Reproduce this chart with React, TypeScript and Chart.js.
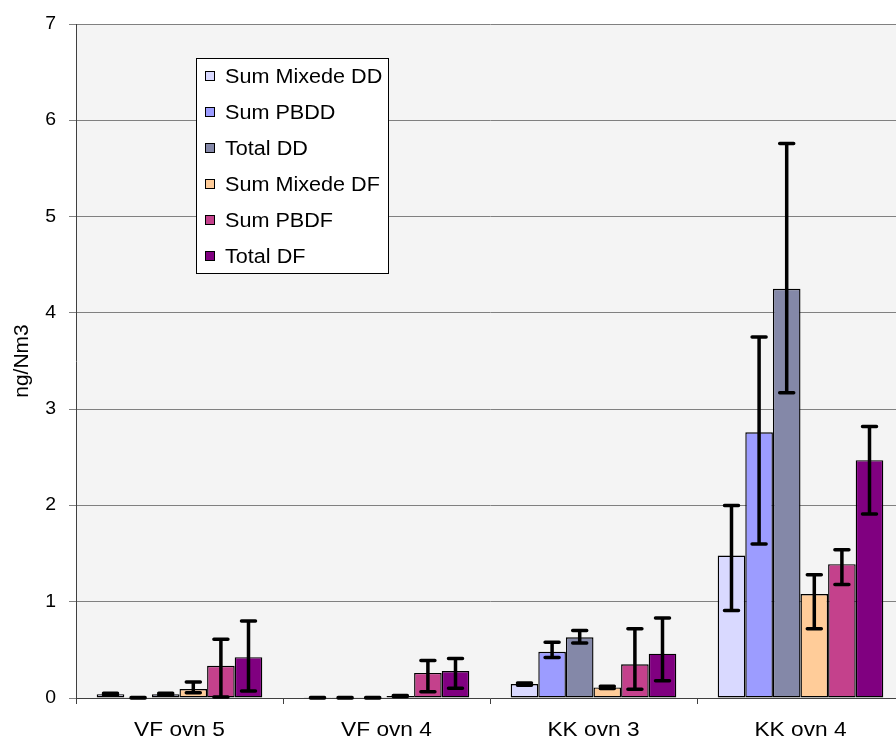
import React, { useEffect, useRef } from "react";
import { Chart, registerables } from "chart.js";

Chart.register(...registerables);

const categories = ["VF ovn 5", "VF ovn 4", "KK ovn 3", "KK ovn 4"];
const seriesNames = ["Sum Mixede DD", "Sum PBDD", "Total DD", "Sum Mixede DF", "Sum PBDF", "Total DF"];

const sumMixedeDD = [0.04, 0.003, 0.145, 1.48];
const sumMixedeDDPlus = [0.01, 0.002, 0.012, 0.52];
const sumMixedeDDMinus = [0.01, 0.002, 0.012, 0.57];

const sumPBDD = [0.003, 0.003, 0.48, 2.76];
const sumPBDDPlus = [0.002, 0.002, 0.1, 0.99];
const sumPBDDMinus = [0.002, 0.002, 0.06, 1.16];

const totalDD = [0.04, 0.003, 0.63, 4.25];
const totalDDPlus = [0.01, 0.002, 0.07, 1.51];
const totalDDMinus = [0.01, 0.002, 0.06, 1.08];

const sumMixedeDF = [0.093, 0.02, 0.11, 1.08];
const sumMixedeDFPlus = [0.073, 0.005, 0.012, 0.2];
const sumMixedeDFMinus = [0.038, 0.005, 0.012, 0.36];

const sumPBDF = [0.334, 0.26, 0.35, 1.39];
const sumPBDFPlus = [0.276, 0.13, 0.37, 0.15];
const sumPBDFMinus = [0.324, 0.195, 0.26, 0.21];

const totalDF = [0.424, 0.28, 0.46, 2.47];
const totalDFPlus = [0.376, 0.13, 0.37, 0.35];
const totalDFMinus = [0.352, 0.18, 0.28, 0.56];

const yTicks = [0, 1, 2, 3, 4, 5, 6, 7];
const yTitle = "ng/Nm3";

const colors = ["#D9D9FF", "#9C9CFF", "#8488A8", "#FFCC99", "#C4418C", "#800080"];

const values = [sumMixedeDD, sumPBDD, totalDD, sumMixedeDF, sumPBDF, totalDF];
const plusErr = [sumMixedeDDPlus, sumPBDDPlus, totalDDPlus, sumMixedeDFPlus, sumPBDFPlus, totalDFPlus];
const minusErr = [sumMixedeDDMinus, sumPBDDMinus, totalDDMinus, sumMixedeDFMinus, sumPBDFMinus, totalDFMinus];

const FONT = "'Liberation Sans', Arial, sans-serif";
const SX = 1.08;

function drawText(ctx: any, text: string, x: number, y: number, align: string, size: number, sx: number) {
  ctx.save();
  ctx.translate(x, y);
  ctx.scale(sx, 1);
  ctx.font = `${size}px ${FONT}`;
  ctx.fillStyle = "#000";
  ctx.textAlign = align;
  ctx.textBaseline = "middle";
  ctx.fillText(text, 0, 0);
  ctx.restore();
}

const bgPlugin = {
  id: "plotBg",
  beforeDraw(chart: any) {
    const { ctx, chartArea } = chart;
    ctx.save();
    ctx.fillStyle = "#F4F4F4";
    ctx.fillRect(chartArea.left, chartArea.top, chartArea.right - chartArea.left, chartArea.bottom - chartArea.top);
    ctx.restore();
  },
};

const errorPlugin = {
  id: "errorBars",
  afterDatasetsDraw(chart: any) {
    const { ctx } = chart;
    const y = chart.scales.y;
    ctx.save();
    ctx.strokeStyle = "#000";
    ctx.lineWidth = 3.5;
    ctx.lineCap = "round";
    chart.data.datasets.forEach((ds: any, di: number) => {
      const meta = chart.getDatasetMeta(di);
      meta.data.forEach((bar: any, i: number) => {
        const v = ds.data[i];
        const p = ds.errPlus[i];
        const m = ds.errMinus[i];
        if (!p && !m) return;
        const x = bar.x;
        const yt = y.getPixelForValue(v + p);
        const yb = y.getPixelForValue(v - m);
        const hw = 7;
        ctx.beginPath();
        ctx.moveTo(x, yt);
        ctx.lineTo(x, yb);
        ctx.moveTo(x - hw, yt);
        ctx.lineTo(x + hw, yt);
        ctx.moveTo(x - hw, yb);
        ctx.lineTo(x + hw, yb);
        ctx.stroke();
      });
    });
    ctx.restore();
  },
};

const labelsPlugin = {
  id: "axisLabels",
  afterDraw(chart: any) {
    const { ctx, chartArea } = chart;
    const xs = chart.scales.x;
    const ys = chart.scales.y;
    yTicks.forEach((v) => {
      drawText(ctx, String(v), 56, ys.getPixelForValue(v), "right", 18, SX);
    });
    categories.forEach((c, i) => {
      drawText(ctx, c, xs.getPixelForValue(i), 730, "center", 21, SX);
    });
    ctx.save();
    ctx.translate(22, (chartArea.top + chartArea.bottom) / 2);
    ctx.rotate(-Math.PI / 2);
    ctx.font = `21px ${FONT}`;
    ctx.fillStyle = "#000";
    ctx.textAlign = "center";
    ctx.textBaseline = "middle";
    ctx.fillText(yTitle, 0, 0);
    ctx.restore();
  },
};

const legendPlugin = {
  id: "boxLegend",
  afterDraw(chart: any) {
    const { ctx } = chart;
    ctx.save();
    const left = 196.5, top = 58.5, w = 192, h = 215;
    ctx.fillStyle = "#FFFFFF";
    ctx.fillRect(left, top, w, h);
    ctx.strokeStyle = "#000";
    ctx.lineWidth = 1;
    ctx.strokeRect(left, top, w, h);
    chart.data.datasets.forEach((ds: any, i: number) => {
      const cy = 76 + i * 36;
      ctx.fillStyle = ds.backgroundColor;
      ctx.fillRect(205.5, cy - 4.5, 9, 9);
      ctx.strokeStyle = "#000";
      ctx.strokeRect(205.5, cy - 4.5, 9, 9);
      drawText(ctx, ds.label, 225, cy + 1, "left", 20, SX);
    });
    ctx.restore();
  },
};

export default function App() {
  const ref = useRef<HTMLCanvasElement | null>(null);
  useEffect(() => {
    if (!ref.current) return;
    const chart = new Chart(ref.current, {
      type: "bar",
      data: {
        labels: categories,
        datasets: seriesNames.map((name, i) => ({
          label: name,
          data: values[i],
          errPlus: plusErr[i],
          errMinus: minusErr[i],
          backgroundColor: colors[i],
          borderColor: "#000",
          borderWidth: 1.4,
          borderSkipped: false,
          barPercentage: 1,
          categoryPercentage: 0.8,
        })) as any,
      },
      options: {
        responsive: false,
        animation: false,
        devicePixelRatio: 1,
        layout: { padding: { top: 24, right: 0, left: 0, bottom: 0 } },
        plugins: { legend: { display: false }, tooltip: { enabled: false } },
        scales: {
          x: {
            offset: true,
            grid: { offset: true, drawOnChartArea: false, tickLength: 6, color: "#404040" },
            border: { color: "#404040", width: 1 },
            ticks: { display: false },
            afterFit(scale: any) {
              scale.height = 44;
            },
          },
          y: {
            min: 0,
            max: 7,
            afterBuildTicks(scale: any) {
              scale.ticks = yTicks.map((v) => ({ value: v }));
            },
            grid: { color: "#808080", tickLength: 7, lineWidth: 1 },
            border: { color: "#404040", width: 1 },
            ticks: { display: false },
            afterFit(scale: any) {
              scale.width = 76;
            },
          },
        },
      },
      plugins: [bgPlugin, errorPlugin, labelsPlugin, legendPlugin],
    } as any);
    return () => chart.destroy();
  }, []);
  return (
    <div style={{ position: "fixed", left: 0, top: 0, width: 896, height: 742, overflow: "hidden", background: "#fff" }}>
      <canvas ref={ref} width={904} height={742} style={{ display: "block", width: 904, height: 742 }} />
    </div>
  );
}
